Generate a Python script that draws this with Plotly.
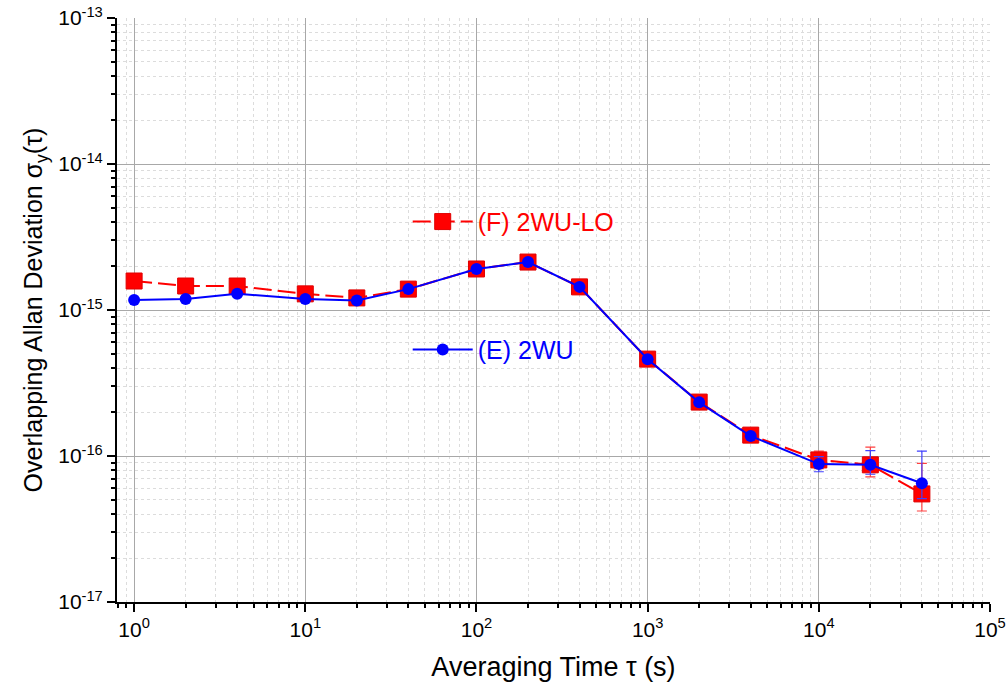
import plotly.graph_objects as go

tau = [1, 2, 4, 10, 20, 40, 100, 200, 400, 1000, 2000, 4000, 10000, 20000, 40000]

adev_F = [1.58e-15, 1.46e-15, 1.46e-15, 1.29e-15, 1.21e-15, 1.39e-15, 1.91e-15, 2.13e-15,
          1.44e-15, 4.61e-16, 2.34e-16, 1.39e-16, 9.4e-17, 8.7e-17, 5.5e-17]
err_F_plus = [0, 0, 0, 0, 0, 0, 0, 0, 0, 0, 0, 4e-18, 1.4e-17, 2.8e-17, 3.4e-17]
err_F_minus = [0, 0, 0, 0, 0, 0, 0, 0, 0, 0, 0, 4e-18, 1.2e-17, 1.5e-17, 1.3e-17]

adev_E = [1.17e-15, 1.19e-15, 1.29e-15, 1.19e-15, 1.16e-15, 1.39e-15, 1.91e-15, 2.13e-15,
          1.44e-15, 4.6e-16, 2.33e-16, 1.37e-16, 8.8e-17, 8.7e-17, 6.5e-17]
err_E_plus = [0, 0, 0, 0, 0, 0, 0, 0, 0, 0, 0, 4e-18, 1.1e-17, 2.2e-17, 4.3e-17]
err_E_minus = [0, 0, 0, 0, 0, 0, 0, 0, 0, 0, 0, 4e-18, 1.0e-17, 1.2e-17, 1.4e-17]

x_decades = [0, 1, 2, 3, 4, 5]
y_decades = [-17, -16, -15, -14, -13]

name_F = "(F) 2WU-LO"
name_E = "(E) 2WU"

FONT = "Liberation Sans, Arial, sans-serif"

xt_vals = [10.0 ** d for d in x_decades]
xt_text = [f"10<sup>{d}</sup>" for d in x_decades]
yt_vals = [10.0 ** d for d in y_decades]
yt_text = [f"10<sup>{d}</sup>" for d in y_decades]

x_minor = [k * 10.0 ** d for d in [-1] + x_decades[:-1] for k in range(2, 10) if k * 10.0 ** d >= 0.79]
y_minor = [k * 10.0 ** d for d in y_decades[:-1] for k in range(2, 10)]

fig = go.Figure()
fig.add_trace(go.Scatter(
    x=tau, y=adev_F, name=name_F, mode="lines+markers",
    line=dict(color="#ff0000", width=2, dash="18px,6px"),
    marker=dict(symbol="square", size=16, color="#ff0000", line=dict(color="#e00000", width=1)),
    error_y=dict(type="data", symmetric=False, array=err_F_plus, arrayminus=err_F_minus,
                 color="#ff4040", thickness=1.2, width=5),
    legend="legend",
))
fig.add_trace(go.Scatter(
    x=tau, y=adev_E, name=name_E, mode="lines+markers",
    line=dict(color="#0000ff", width=2),
    marker=dict(symbol="circle", size=12, color="#0000ff"),
    error_y=dict(type="data", symmetric=False, array=err_E_plus, arrayminus=err_E_minus,
                 color="#4040ff", thickness=1.2, width=5),
    legend="legend2",
))

axis_common = dict(
    type="log", showline=True, linecolor="black", linewidth=2,
    ticks="outside", ticklen=8, tickwidth=2, tickcolor="black",
    showgrid=True, gridcolor="#a8a8a8", gridwidth=1,
    tickfont=dict(family=FONT, size=21, color="black"),
    ticklabeloverflow="allow",
    zeroline=False, mirror=False, automargin=False,
)

fig.update_xaxes(
    **axis_common,
    range=[-0.1, 5],
    tickmode="array", tickvals=xt_vals, ticktext=xt_text,
    minor=dict(tickmode="array", tickvals=x_minor, ticks="outside", ticklen=4, tickwidth=1.5,
               tickcolor="black", showgrid=True, gridcolor="#dcdcdc", griddash="dot", gridwidth=1),
    title=dict(text="Averaging Time τ (s)", font=dict(family=FONT, size=27, color="black"), standoff=17),
)
fig.update_yaxes(
    **axis_common,
    range=[-17, -13],
    tickmode="array", tickvals=yt_vals, ticktext=yt_text,
    minor=dict(tickmode="array", tickvals=y_minor, ticks="outside", ticklen=4, tickwidth=1.5,
               tickcolor="black", showgrid=True, gridcolor="#dcdcdc", griddash="dot", gridwidth=1),
    title=dict(text="Overlapping Allan Deviation σ<sub>y</sub>(τ)",
               font=dict(family=FONT, size=25, color="black"), standoff=8),
)

fig.update_layout(
    width=1008, height=684,
    margin=dict(l=117, r=18, t=18, b=82),
    paper_bgcolor="white", plot_bgcolor="white",
    font=dict(family=FONT),
    legend=dict(x=0.333, y=0.651, xanchor="left", yanchor="middle", bgcolor="rgba(0,0,0,0)",
                font=dict(family=FONT, size=25, color="#ff0000"), itemwidth=60),
    legend2=dict(x=0.333, y=0.432, xanchor="left", yanchor="middle", bgcolor="rgba(0,0,0,0)",
                 font=dict(family=FONT, size=25, color="#0000ff"), itemwidth=60),
    showlegend=True,
)

fig.write_html("out.html", config={"displayModeBar": False},
               post_script="document.body.style.margin='0';document.body.style.overflow='hidden';")
